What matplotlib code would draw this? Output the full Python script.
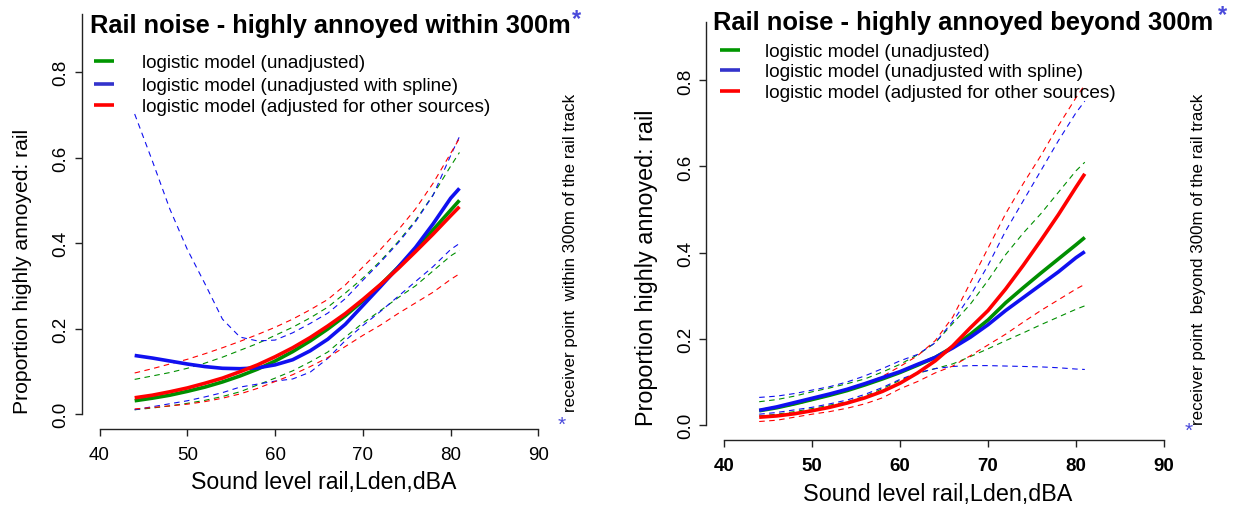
import matplotlib
matplotlib.use("Agg")
import matplotlib.pyplot as plt

W, H = 1235, 506

# ---------------- data ----------------
levels = [44, 46, 48, 50, 52, 54, 56, 58, 60, 62, 64, 66, 68, 70, 72, 74, 76, 78, 80, 81]

# within 300m
w_green = [0.031, 0.037, 0.044, 0.053, 0.063, 0.075, 0.089, 0.105, 0.124, 0.146,
           0.171, 0.199, 0.230, 0.265, 0.302, 0.343, 0.386, 0.431, 0.477, 0.500]
w_green_lo = [0.010, 0.014, 0.019, 0.025, 0.032, 0.041, 0.052, 0.068, 0.084, 0.101,
              0.122, 0.145, 0.180, 0.213, 0.242, 0.272, 0.300, 0.335, 0.370, 0.383]
w_green_hi = [0.081, 0.089, 0.097, 0.107, 0.119, 0.133, 0.149, 0.165, 0.184, 0.203,
              0.225, 0.250, 0.283, 0.318, 0.358, 0.403, 0.453, 0.513, 0.580, 0.612]
w_blue = [0.137, 0.131, 0.124, 0.117, 0.111, 0.107, 0.106, 0.108, 0.115, 0.127,
          0.148, 0.175, 0.210, 0.254, 0.298, 0.343, 0.390, 0.445, 0.505, 0.528]
w_blue_lo = [0.010, 0.017, 0.024, 0.031, 0.040, 0.050, 0.063, 0.070, 0.077, 0.082,
             0.098, 0.130, 0.172, 0.207, 0.240, 0.275, 0.310, 0.345, 0.385, 0.399]
w_blue_hi = [0.702, 0.593, 0.480, 0.385, 0.305, 0.222, 0.180, 0.171, 0.173, 0.190,
             0.212, 0.236, 0.270, 0.313, 0.355, 0.400, 0.450, 0.512, 0.605, 0.649]
w_red = [0.038, 0.044, 0.052, 0.061, 0.072, 0.084, 0.099, 0.115, 0.134, 0.155,
         0.179, 0.206, 0.235, 0.268, 0.303, 0.340, 0.380, 0.421, 0.464, 0.485]
w_red_lo = [0.012, 0.015, 0.019, 0.023, 0.029, 0.037, 0.047, 0.060, 0.076, 0.092,
            0.111, 0.132, 0.158, 0.184, 0.208, 0.235, 0.260, 0.285, 0.315, 0.328]
w_red_hi = [0.096, 0.106, 0.117, 0.128, 0.141, 0.155, 0.170, 0.186, 0.203, 0.222,
            0.244, 0.268, 0.302, 0.344, 0.385, 0.430, 0.480, 0.540, 0.610, 0.645]

# beyond 300m
b_green = [0.032, 0.039, 0.048, 0.058, 0.068, 0.079, 0.092, 0.106, 0.121, 0.138,
           0.156, 0.180, 0.210, 0.243, 0.283, 0.318, 0.352, 0.385, 0.418, 0.435]
b_green_lo = [0.020, 0.024, 0.030, 0.037, 0.045, 0.053, 0.066, 0.083, 0.103, 0.119,
              0.130, 0.141, 0.158, 0.176, 0.195, 0.213, 0.232, 0.250, 0.268, 0.276]
b_green_hi = [0.053, 0.058, 0.066, 0.076, 0.085, 0.095, 0.106, 0.122, 0.140, 0.162,
              0.190, 0.235, 0.280, 0.335, 0.395, 0.445, 0.490, 0.540, 0.590, 0.610]
b_blue = [0.033, 0.041, 0.051, 0.061, 0.071, 0.082, 0.095, 0.109, 0.123, 0.140,
          0.156, 0.178, 0.203, 0.232, 0.265, 0.295, 0.325, 0.355, 0.388, 0.402]
b_blue_lo = [0.024, 0.028, 0.034, 0.040, 0.048, 0.057, 0.070, 0.086, 0.105, 0.120,
             0.130, 0.135, 0.137, 0.137, 0.136, 0.135, 0.134, 0.132, 0.129, 0.128]
b_blue_hi = [0.063, 0.066, 0.072, 0.080, 0.088, 0.099, 0.113, 0.130, 0.148, 0.163,
             0.190, 0.240, 0.300, 0.370, 0.450, 0.520, 0.590, 0.660, 0.725, 0.752]
b_red = [0.017, 0.020, 0.025, 0.032, 0.040, 0.050, 0.062, 0.077, 0.096, 0.120,
         0.148, 0.183, 0.225, 0.265, 0.315, 0.370, 0.428, 0.488, 0.552, 0.583]
b_red_lo = [0.007, 0.010, 0.017, 0.024, 0.030, 0.038, 0.048, 0.062, 0.083, 0.100,
            0.120, 0.136, 0.160, 0.185, 0.210, 0.238, 0.265, 0.290, 0.315, 0.326]
b_red_hi = [0.032, 0.038, 0.046, 0.056, 0.067, 0.080, 0.095, 0.112, 0.135, 0.160,
            0.195, 0.250, 0.330, 0.410, 0.490, 0.560, 0.625, 0.695, 0.760, 0.790]

x_ticks = [40, 50, 60, 70, 80, 90]
y_ticks = [0.0, 0.2, 0.4, 0.6, 0.8]
legend_labels = ["logistic model (unadjusted)",
                 "logistic model (unadjusted with spline)",
                 "logistic model (adjusted for other sources)"]
titles = ["Rail noise - highly annoyed within 300m",
          "Rail noise - highly annoyed beyond 300m"]
side_notes = ["receiver point  within 300m of the rail track",
              "receiver point  beyond 300m of the rail track"]
x_label = "Sound level rail,Lden,dBA"
y_label = "Proportion highly annoyed: rail"

GREEN, BLUE, RED = "#008F00", "#1010F0", "#FF0000"
LEG_COLORS = ["#009600", "#3333CC", "#FF0000"]
STAR = "#4B4BDB"

plt.rcParams["font.family"] = ["Liberation Sans", "DejaVu Sans"]

fig = plt.figure(figsize=(W / 100, H / 100), dpi=100)


def fpos(x, y):
    return x / W, 1 - y / H


renderer = fig.canvas.get_renderer()


def fit(t, target, dim="w"):
    bb = t.get_window_extent(renderer)
    cur = bb.width if dim == "w" else bb.height
    t.set_fontsize(t.get_fontsize() * target / cur)


panels = [
    dict(rect=[82, 15.0, 556, 430.4],
         series=[(w_green, w_green_lo, w_green_hi, GREEN),
                 (w_blue, w_blue_lo, w_blue_hi, BLUE),
                 (w_red, w_red_lo, w_red_hi, RED)],
         title=(90, 33, 481), star=(577, 20),
         leg_x=(94, 114), leg_y=[62, 85, 106], leg_tx=142, leg_w=354,
         xlab=(324, 482, 267), ylab=(23, 271, 287),
         note=(570.5, 412, 317), nstar=(561.5, 425), xbold="normal"),
    dict(rect=[706.4, 23.0, 1181.6, 441],
         series=[(b_green, b_green_lo, b_green_hi, GREEN),
                 (b_blue, b_blue_lo, b_blue_hi, BLUE),
                 (b_red, b_red_lo, b_red_hi, RED)],
         title=(713, 30, 502), star=(1222, 16),
         leg_x=(720, 740), leg_y=[51, 71, 92], leg_tx=765, leg_w=357,
         xlab=(938, 495, 270), ylab=(647, 268, 317),
         note=(1199, 425, 331), nstar=(1189, 431), xbold="bold"),
]

for i, p in enumerate(panels):
    l, t, r, b = p["rect"]
    ax = fig.add_axes([l / W, 1 - b / H, (r - l) / W, (b - t) / H])
    ax.set_xlim(38, 92)
    ax.set_ylim(-0.036, 0.936)
    for sp in ["top", "right"]:
        ax.spines[sp].set_visible(False)
    ax.spines["left"].set_bounds(0, 0.936)
    ax.spines["bottom"].set_bounds(40, 90)
    for sp in ["left", "bottom"]:
        ax.spines[sp].set_linewidth(1.0)
        ax.spines[sp].set_color("#222222")
    ax.set_xticks(x_ticks)
    ax.set_xticklabels([str(v) for v in x_ticks], fontsize=13.5,
                       fontweight=p["xbold"])
    ax.set_yticks(y_ticks)
    ax.set_yticklabels([f"{v:.1f}" for v in y_ticks], fontsize=13.5,
                       rotation=90, va="center")
    ax.tick_params(axis="both", direction="out", length=5, width=1.0,
                   color="#222222")
    ax.tick_params(axis="x", pad=7)
    ax.tick_params(axis="y", pad=4)

    for mean, lo, hi, c in p["series"]:
        ax.plot(levels, hi, color=c, lw=0.8, dashes=(5, 4))
        ax.plot(levels, lo, color=c, lw=0.8, dashes=(5, 4))
    for mean, lo, hi, c in p["series"]:
        ax.plot(levels, mean, color=c, lw=2.6, solid_capstyle="butt")

    # title with blue asterisk
    tx, ty, tw = p["title"]
    tt = fig.text(*fpos(tx, ty), titles[i], fontsize=17, fontweight="bold",
                  ha="left", va="baseline")
    fit(tt, tw)
    sx, sy = p["star"]
    fig.text(*fpos(sx, sy), "*", fontsize=17, fontweight="bold", color=STAR,
             ha="center", va="center")

    # legend
    x0, x1 = p["leg_x"]
    for k, ly in enumerate(p["leg_y"]):
        fig.add_artist(plt.Line2D([x0 / W, x1 / W], [1 - ly / H, 1 - ly / H],
                                  color=LEG_COLORS[k], lw=2.6,
                                  solid_capstyle="butt"))
    lts = []
    for k, ly in enumerate(p["leg_y"]):
        lt = fig.text(*fpos(p["leg_tx"], ly + 6), legend_labels[k], fontsize=14,
                      ha="left", va="baseline")
        lts.append(lt)
    fit(lts[2], p["leg_w"])
    for lt in lts[:2]:
        lt.set_fontsize(lts[2].get_fontsize())

    # axis labels
    xx, xy, xw = p["xlab"]
    xl = fig.text(*fpos(xx, xy), x_label, fontsize=15, ha="center", va="center")
    fit(xl, xw)
    yx, yy, yw = p["ylab"]
    yl = fig.text(*fpos(yx, yy), y_label, fontsize=15, ha="center", va="center",
                  rotation=90)
    fit(yl, yw, "h")

    # side note
    nx, ny, nh = p["note"]
    nt = fig.text(*fpos(nx, ny), side_notes[i], fontsize=11, ha="center",
                  va="bottom", rotation=90)
    fit(nt, nh, "h")
    snx, sny = p["nstar"]
    fig.text(*fpos(snx, sny), "*", fontsize=15, color=STAR, ha="center",
             va="center")

fig.savefig("out.png", dpi=100)
